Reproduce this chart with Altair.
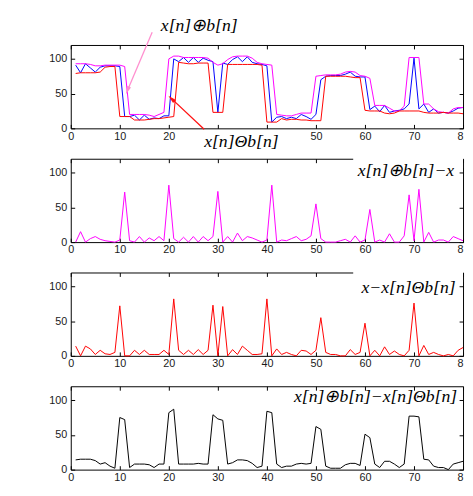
import altair as alt
import pandas as pd

# ---------------- data ----------------
n = list(range(1, 81))

x_sig = [91, 80, 93, 87, 81, 88, 90, 90, 90, 89,
         17, 17, 19, 12, 19, 13, 15, 14, 18, 18,
         100, 96, 102, 95, 102, 95, 101, 98, 96, 23,
         94, 92, 99, 103, 96, 103, 95, 93, 92, 90,
         9, 16, 17, 14, 16, 14, 20, 17, 13, 20,
         70, 75, 76, 76, 76, 78, 81, 75, 74, 74,
         27, 32, 24, 33, 23, 25, 26, 28, 35, 101,
         28, 35, 23, 28, 22, 23, 22, 25, 29, 30]

dil = [93, 93, 93, 92, 90, 90, 91, 91, 91, 91,
       89, 20, 20, 20, 20, 19, 17, 20, 23, 100,
       104, 104, 102, 102, 102, 102, 102, 101, 95, 91,
       93, 99, 103, 104, 104, 104, 101, 95, 93, 92,
       91, 20, 19, 18, 18, 20, 22, 22, 22, 75,
       76, 77, 77, 77, 78, 81, 82, 81, 76, 75,
       72, 33, 33, 33, 29, 25, 25, 32, 102, 102,
       102, 35, 35, 28, 24, 23, 22, 28, 30, 30]

ero = [79, 80, 80, 80, 80, 81, 88, 89, 89, 17,
       17, 17, 12, 12, 12, 13, 14, 14, 15, 16,
       17, 95, 94, 93, 93, 94, 94, 94, 23, 23,
       23, 92, 92, 92, 92, 92, 92, 92, 91, 9,
       9, 9, 14, 12, 13, 13, 12, 12, 11, 11,
       11, 75, 75, 75, 75, 75, 74, 73, 73, 26,
       25, 25, 25, 22, 21, 22, 25, 25, 25, 25,
       25, 23, 22, 22, 22, 23, 22, 22, 22, 21]

dil_minus_x = [0, 15, 0, 5, 8, 4, 2, 1, 0, 3,
               72, 2, 0, 8, 0, 6, 2, 8, 2, 82,
               5, 0, 7, 0, 8, 0, 8, 2, 8, 73,
               0, 8, 0, 13, 2, 8, 6, 3, 0, 3,
               82, 0, 3, 2, 5, 8, 2, 4, 9, 55,
               5, 0, 0, 0, 2, 4, 0, 9, 0, 3,
               47, 0, 3, 0, 12, 0, 0, 9, 68, 2,
               76, 0, 14, 0, 3, 3, 0, 8, 5, 2]

x_minus_ero = [14, 0, 14, 10, 2, 8, 3, 2, 5, 72,
               0, 0, 8, 2, 8, 2, 2, 2, 8, 2,
               82, 8, 2, 8, 2, 9, 2, 8, 73, 0,
               71, 0, 9, 2, 14, 8, 2, 2, 3, 82,
               0, 10, 2, 5, 2, 0, 8, 7, 2, 8,
               55, 5, 2, 2, 0, 0, 9, 2, 5, 47,
               0, 8, 0, 13, 2, 7, 2, 0, 8, 76,
               0, 15, 2, 5, 2, 0, 2, 0, 8, 12]

dil_minus_ero = [14, 15, 15, 15, 13, 8, 10, 5, 2, 75,
                 72, 3, 8, 8, 8, 7, 3, 8, 8, 82,
                 87, 8, 8, 8, 8, 9, 8, 8, 79, 73,
                 71, 8, 10, 14, 14, 13, 9, 3, 5, 84,
                 82, 8, 3, 5, 5, 8, 9, 8, 9, 62,
                 58, 5, 2, 2, 2, 7, 9, 9, 6, 51,
                 46, 8, 3, 12, 12, 8, 3, 8, 77, 77,
                 76, 15, 14, 5, 3, 3, 0, 8, 10, 12]

x_ticks = [0, 10, 20, 30, 40, 50, 60, 70, 80]
y_ticks = [0, 50, 100]

# annotations of the first panel
eq_texts = ["x[n]\u2295b[n]", "x[n]\u0398b[n]"]
eq_x = [26.2, 34.8]
eq_y = [147.0, -20.0]

arrow_x0 = [16.6, 27.2]
arrow_y0 = [138.4, -1.4]
arrow_x1 = [11.6, 20.6]
arrow_y1 = [55.1, 42.4]
arrow_angle = [203, 313]
arrow_col = ["#ff8fcf", "#ff1010"]

# labels of the lower panels
panel_labels = ["x[n]\u2295b[n]\u2212x", "x\u2212x[n]\u0398b[n]",
                "x[n]\u2295b[n]\u2212x[n]\u0398b[n]"]
label_x = [78.2, 78.5, 78.8]
label_y = [101.6, 97.4, 104.5]

# invisible layout anchor (top-left margin of the figure)
anchor_x = [-12.8, 0.0]
anchor_y = [120.0, 165.2]

# ---------------- styling ----------------
W, H = 400, 85
FONT_AX = "Liberation Sans"
FONT_EQ = "Liberation Serif"
EQ_SIZE = 18
INWARD = alt.ExprRef(expr="-4")


def xs():
    return alt.Scale(domain=[0, 80], nice=False, zero=False)


def ys():
    return alt.Scale(domain=[0, 120], nice=False)


def axis_bottom(hide_30_40=False):
    expr = "datum.value == 80 ? '8' : datum.label"
    if hide_30_40:
        expr = "(datum.value == 30 || datum.value == 40) ? '' : (" + expr + ")"
    return alt.Axis(values=x_ticks, title=None, grid=False, tickSize=INWARD,
                    labelPadding=6, labelFlush=False, labelOverlap=False,
                    labelFont=FONT_AX, labelFontSize=11, labelColor="#1a1a1a",
                    labelAlign=alt.ExprRef(expr="datum.value == 80 ? 'right' : 'center'"),
                    labelExpr=expr,
                    domainColor="#000000", tickColor="#000000", format="d",
                    zindex=0)


def axis_left():
    return alt.Axis(values=y_ticks, title=None, grid=False, tickSize=INWARD,
                    labelPadding=8, labelFont=FONT_AX, labelFontSize=11,
                    labelColor="#1a1a1a", domainColor="#000000",
                    tickColor="#000000", format="d", zindex=0)


def axis_top():
    return alt.Axis(orient="top", values=x_ticks, title=None, grid=False,
                    labels=False, tickSize=INWARD, domainColor="#000000",
                    tickColor="#000000", zindex=0, minExtent=0, maxExtent=0)


def axis_right():
    return alt.Axis(orient="right", values=y_ticks, title=None, grid=False,
                    labels=False, tickSize=INWARD, domainColor="#000000",
                    tickColor="#000000", zindex=0, minExtent=0, maxExtent=0)


def frame_layer(df):
    return alt.Chart(df).mark_line(strokeOpacity=0).encode(
        x=alt.X("n:Q", scale=xs(), axis=axis_top()),
        y=alt.Y("v:Q", scale=ys(), axis=axis_right()),
    )


# ---------------- panel 1 ----------------
df1 = pd.DataFrame({
    "n": n * 3,
    "v": x_sig + dil + ero,
    "s": ["x"] * 80 + ["d"] * 80 + ["e"] * 80,
})
lines1 = alt.Chart(df1).mark_line(strokeWidth=1).encode(
    x=alt.X("n:Q", scale=xs(), axis=axis_bottom(True)),
    y=alt.Y("v:Q", scale=ys(), axis=axis_left()),
    color=alt.Color("s:N", scale=alt.Scale(domain=["e", "d", "x"],
                                           range=["#ff0000", "#ff00ff", "#0000ff"]),
                    legend=None),
    detail="s:N",
)

anchor = alt.Chart(pd.DataFrame({"a": [anchor_x[0]], "b": [anchor_x[1]],
                                 "c": [anchor_y[0]], "d": [anchor_y[1]]})).mark_rect(
    opacity=0).encode(
    x=alt.X("a:Q", scale=xs(), axis=None), x2="b:Q",
    y=alt.Y("c:Q", scale=ys(), axis=None), y2="d:Q",
)

df_arrow = pd.DataFrame({"x0": arrow_x0, "y0": arrow_y0, "x1": arrow_x1,
                         "y1": arrow_y1, "ang": arrow_angle, "c": arrow_col})
arrows = alt.Chart(df_arrow).mark_rule(strokeWidth=1.3).encode(
    x=alt.X("x0:Q", scale=xs(), axis=None),
    y=alt.Y("y0:Q", scale=ys(), axis=None),
    x2="x1:Q", y2="y1:Q",
    color=alt.Color("c:N", scale=None, legend=None),
)
heads = alt.Chart(df_arrow).mark_point(
    shape="M0,-1L0.45,0.8L-0.45,0.8Z", filled=True, size=90, opacity=1
).encode(
    x=alt.X("x1:Q", scale=xs(), axis=None),
    y=alt.Y("y1:Q", scale=ys(), axis=None),
    angle=alt.Angle("ang:Q", scale=None),
    color=alt.Color("c:N", scale=None, legend=None),
)
df_eq = pd.DataFrame({"t": eq_texts, "x": eq_x, "y": eq_y})
eqs = alt.Chart(df_eq).mark_text(font=FONT_EQ, fontSize=EQ_SIZE, fontStyle="italic",
                                 color="#000000", baseline="middle",
                                 align="center").encode(
    x=alt.X("x:Q", scale=xs(), axis=None),
    y=alt.Y("y:Q", scale=ys(), axis=None),
    text="t:N",
)

panel1 = alt.layer(anchor, lines1, frame_layer(df1), arrows, heads, eqs).resolve_axis(
    x="independent", y="independent").properties(width=W, height=H)


# ---------------- panels 2-4 ----------------
def diff_panel(values, color, idx, cover):
    df = pd.DataFrame({"n": n, "v": values})
    line = alt.Chart(df).mark_line(strokeWidth=1, color=color).encode(
        x=alt.X("n:Q", scale=xs(), axis=axis_bottom()),
        y=alt.Y("v:Q", scale=ys(), axis=axis_left()),
    )
    layers = [line, frame_layer(df)]
    if cover:
        box = alt.Chart(pd.DataFrame({"a": [57.6], "b": [80.0],
                                      "c": [106.0], "d": [125.0]})).mark_rect(
            color="#ffffff").encode(
            x=alt.X("a:Q", scale=xs(), axis=None), x2="b:Q",
            y=alt.Y("c:Q", scale=ys(), axis=None), y2="d:Q",
        )
        layers.append(box)
    lab = alt.Chart(pd.DataFrame({"t": [panel_labels[idx]], "x": [label_x[idx]],
                                  "y": [label_y[idx]]})).mark_text(
        font=FONT_EQ, fontSize=EQ_SIZE, fontStyle="italic", color="#000000",
        align="right", baseline="middle").encode(
        x=alt.X("x:Q", scale=xs(), axis=None),
        y=alt.Y("y:Q", scale=ys(), axis=None),
        text="t:N",
    )
    layers.append(lab)
    return alt.layer(*layers).resolve_axis(
        x="independent", y="independent").properties(width=W, height=H)


panel2 = diff_panel(dil_minus_x, "#ff00ff", 0, True)
panel3 = diff_panel(x_minus_ero, "#ff0000", 1, True)
panel4 = diff_panel(dil_minus_ero, "#000000", 2, False)

chart = alt.vconcat(panel1, panel2, panel3, panel4, spacing=31,
                    bounds="flush").properties(
    padding={"left": 0, "top": 0, "right": 0, "bottom": 0},
    background="#ffffff",
).configure_view(strokeWidth=0)

chart.save("out.html", embed_options={"renderer": "svg", "actions": False})
